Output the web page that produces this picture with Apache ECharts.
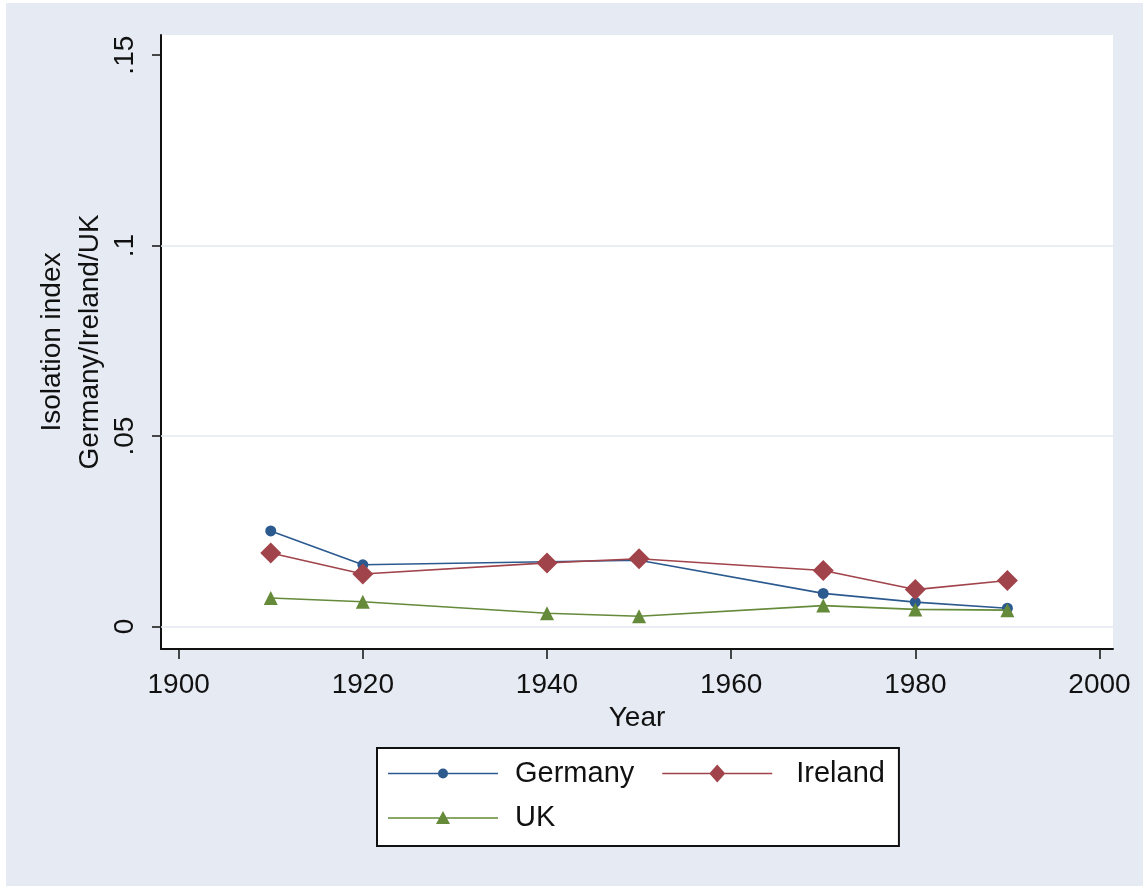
<!DOCTYPE html>
<html>
<head>
<meta charset="utf-8">
<script src="https://cdn.jsdelivr.net/npm/echarts@6/dist/echarts.min.js"></script>
<style>
  html, body { margin: 0; padding: 0; background: #ffffff; }
  #chart { position: absolute; left: 6px; top: 3px; width: 1137px; height: 883px; }
</style>
</head>
<body>
<div id="chart"></div>
<script>
// Isolation index by census year
const years = [1910, 1920, 1940, 1950, 1970, 1980, 1990];
const germany = [0.0251, 0.0162, 0.0170, 0.0174, 0.0087, 0.0064, 0.0048];
const ireland = [0.0193, 0.0138, 0.0167, 0.0178, 0.0147, 0.0097, 0.0121];
const uk      = [0.0075, 0.0065, 0.0035, 0.0027, 0.0055, 0.0045, 0.0043];

const xTicks = [1900, 1920, 1940, 1960, 1980, 2000];
const yTicks = [0, 0.05, 0.1, 0.15];
const yTickLabels = ['0', '.05', '.1', '.15'];
const yGridValues = [0, 0.05, 0.1];

const seriesNames = ['Germany', 'Ireland', 'UK'];
const colors = ['#2C5A8F', '#A1434A', '#648A3A'];

const FONT = 'Liberation Sans, Arial, sans-serif';
const pairs = (vals) => years.map((y, i) => [y, vals[i]]);

// Legend keys: a thin connecting line with the series marker in the middle
const keyLine = 'M0,-0.8 L110,-0.8 L110,0.8 L0,0.8 Z ';
const legendIcons = [
  'path://' + keyLine + 'M50,0 A5,5 0 1,1 60,0 A5,5 0 1,1 50,0 Z',
  'path://' + keyLine + 'M55,-9 L63,0 L55,9 L47,0 Z',
  'path://' + keyLine + 'M55,-7 L62,6 L48,6 Z'
];

const legendCommon = {
  orient: 'horizontal',
  itemWidth: 110,
  itemHeight: 18,
  symbolKeepAspect: true,
  itemStyle: { borderWidth: 0 },
  textStyle: { fontSize: 29, color: '#111', fontFamily: FONT, padding: [0, 0, 0, 12] }
};

const chart = echarts.init(document.getElementById('chart'), null, { renderer: 'canvas' });

chart.setOption({
  animation: false,
  backgroundColor: '#E5EAF3',
  textStyle: { fontFamily: FONT },
  grid: {
    left: 155, right: 30, top: 32, bottom: 237,
    show: true, backgroundColor: '#ffffff', borderWidth: 0
  },
  xAxis: {
    type: 'value',
    min: 1898.08, max: 2001.47,
    name: 'Year',
    nameLocation: 'middle',
    nameGap: 46,
    nameTextStyle: { fontSize: 28, color: '#111', fontFamily: FONT },
    axisLine: { show: true, onZero: false, lineStyle: { color: '#111', width: 2 } },
    axisTick: { show: true, length: 10, customValues: xTicks, lineStyle: { color: '#111', width: 1.5 } },
    axisLabel: {
      customValues: xTicks, margin: 22, fontSize: 28, color: '#111', fontFamily: FONT,
      formatter: (v) => String(v)
    },
    splitLine: { show: false }
  },
  yAxis: {
    type: 'value',
    min: -0.0059, max: 0.1553,
    name: 'Isolation index\nGermany/Ireland/UK',
    nameLocation: 'middle',
    nameRotate: 90,
    nameGap: 52,
    nameMoveOverlap: false,
    nameTextStyle: { fontSize: 28, lineHeight: 38, color: '#111', fontFamily: FONT },
    axisLine: { show: true, onZero: false, lineStyle: { color: '#111', width: 2 } },
    axisTick: { show: true, length: 9, customValues: yTicks, lineStyle: { color: '#111', width: 1.5 } },
    axisLabel: {
      customValues: yTicks, rotate: 90, margin: 22, fontSize: 28, color: '#111', fontFamily: FONT,
      formatter: (v) => {
        const i = yTicks.findIndex((t) => Math.abs(t - v) < 1e-9);
        return i >= 0 ? yTickLabels[i] : '';
      }
    },
    splitLine: { show: false }
  },
  legend: [
    Object.assign({}, legendCommon, {
      data: [
        { name: seriesNames[0], icon: legendIcons[0] },
        { name: seriesNames[1], icon: legendIcons[1], textStyle: { padding: [0, 0, 0, 19] } }
      ],
      left: 371, top: 745,
      padding: [11, 14, 58, 11],
      itemGap: 28,
      backgroundColor: '#ffffff',
      borderColor: '#111',
      borderWidth: 2,
      borderRadius: 0,
      z: 4
    }),
    Object.assign({}, legendCommon, {
      data: [{ name: seriesNames[2], icon: legendIcons[2] }],
      left: 382, top: 800,
      padding: 0,
      z: 5
    })
  ],
  series: [
    {
      name: seriesNames[0], type: 'line', data: pairs(germany),
      symbol: 'circle', symbolSize: 11,
      lineStyle: { color: colors[0], width: 1.6 },
      itemStyle: { color: colors[0] },
      markLine: {
        silent: true, symbol: ['none', 'none'], label: { show: false },
        lineStyle: { color: '#E3E8F0', width: 1.5, type: 'solid' },
        data: yGridValues.map((v) => ({ yAxis: v }))
      },
      z: 3
    },
    {
      name: seriesNames[1], type: 'line', data: pairs(ireland),
      symbol: 'diamond', symbolSize: 21,
      lineStyle: { color: colors[1], width: 1.6 },
      itemStyle: { color: colors[1] },
      z: 4
    },
    {
      name: seriesNames[2], type: 'line', data: pairs(uk),
      symbol: 'triangle', symbolSize: 14,
      lineStyle: { color: colors[2], width: 1.6 },
      itemStyle: { color: colors[2] },
      z: 5
    }
  ]
});
</script>
</body>
</html>
